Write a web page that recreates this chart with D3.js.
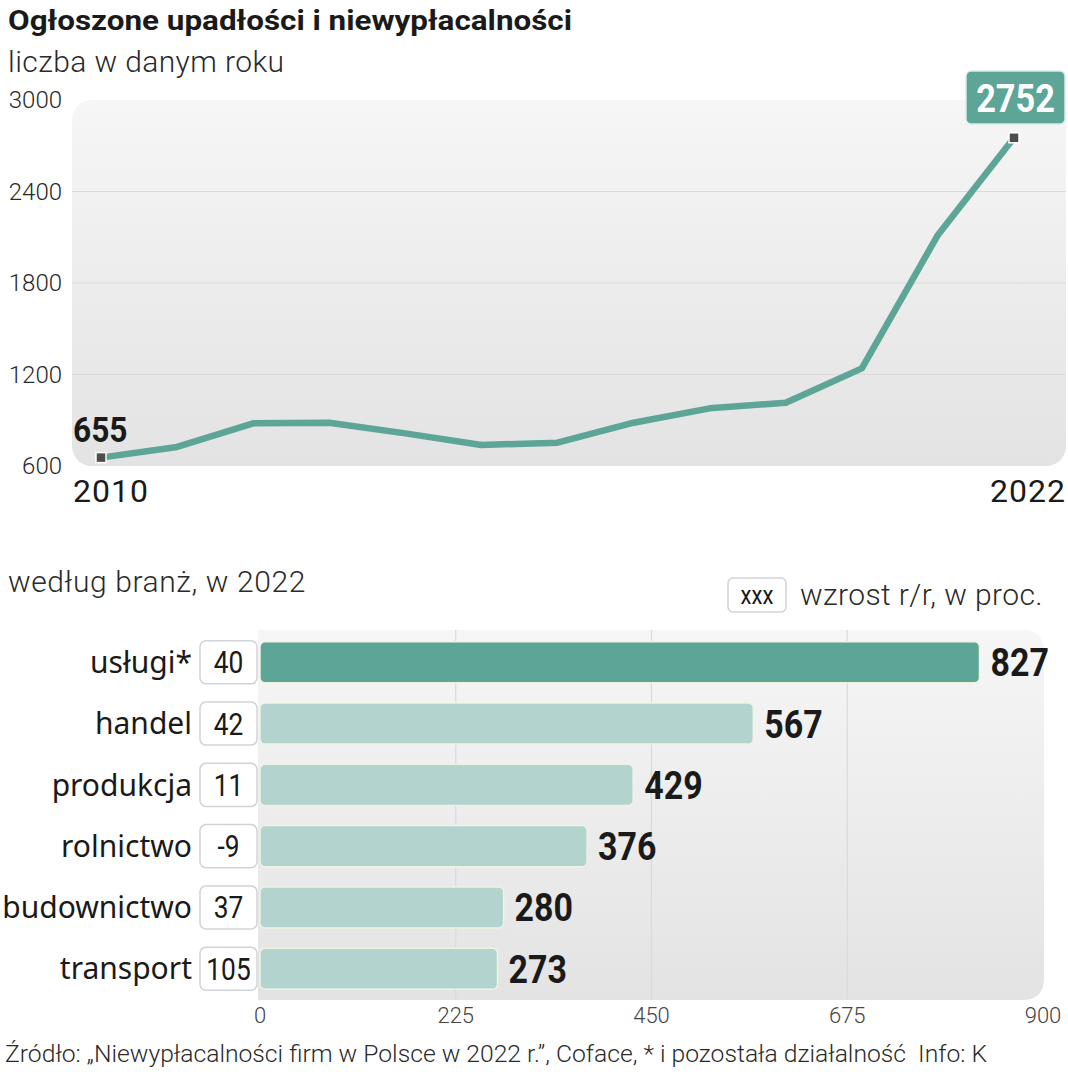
<!DOCTYPE html>
<html>
<head>
<meta charset="utf-8">
<title>Ogłoszone upadłości i niewypłacalności</title>
<script src="https://cdnjs.cloudflare.com/ajax/libs/d3/7.8.5/d3.min.js"></script>
<style>
    body { margin: 0; background: #fff; }
    svg { display: block; }
    .light { font-family: Roboto, sans-serif; font-weight: 300; fill: #2a2a2a; }
    .cond { font-family: Roboto, sans-serif; fill: #1a1a1a; }
</style>
</head>
<body>
<svg id="chart" width="1068" height="1080"></svg>
<script>
// line chart data
var years = [2010, 2011, 2012, 2013, 2014, 2015, 2016, 2017, 2018, 2019, 2020, 2021, 2022];
var counts = [655, 725, 880, 884, 814, 738, 753, 884, 978, 1015, 1240, 2115, 2752];
var yTicks = [600, 1200, 1800, 2400, 3000];

// bar chart data
var sectors = ["usługi*", "handel", "produkcja", "rolnictwo", "budownictwo", "transport"];
var sectorCounts = [827, 567, 429, 376, 280, 273];
var growth = [40, 42, 11, -9, 37, 105];
var xTicks = [0, 225, 450, 675, 900];

var svg = d3.select("#chart");
var defs = svg.append("defs");

var grad = defs.append("linearGradient").attr("id", "panelGrad")
    .attr("x1", 0).attr("y1", 0).attr("x2", 0).attr("y2", 1);
grad.append("stop").attr("offset", "0%").attr("stop-color", "#f6f6f6");
grad.append("stop").attr("offset", "100%").attr("stop-color", "#e3e3e3");

var teal = "#5ca597";
var lightTeal = "#b3d4ce";

// no condensed font installed, so squeeze Roboto horizontally
function squeeze(x, y, k) {
    return "translate(" + x + "," + y + ") scale(" + k + ",1)";
}

// titles
svg.append("text").attr("x", 8).attr("y", 30)
    .attr("class", "cond").attr("font-weight", "bold")
    .attr("font-size", 28).attr("textLength", 564).attr("lengthAdjust", "spacingAndGlyphs")
    .text("Ogłoszone upadłości i niewypłacalności");
svg.append("text").attr("x", 8).attr("y", 72).attr("class", "light")
    .attr("font-size", 30).attr("letter-spacing", 0.4).text("liczba w danym roku");

// ---- line chart ----
var x = d3.scaleLinear().domain([2010, 2022]).range([101, 1014]);
var y = d3.scaleLinear().domain([600, 3000]).range([466, 100]);

svg.append("rect").attr("x", 72).attr("y", 100).attr("width", 994).attr("height", 366)
    .attr("rx", 20).attr("fill", "url(#panelGrad)");

svg.append("g").selectAll("line")
    .data(yTicks.slice(1, 4))
    .enter().append("line")
    .attr("x1", 72).attr("x2", 1066)
    .attr("y1", d => y(d)).attr("y2", d => y(d))
    .attr("stroke", "#d9d9de").attr("stroke-width", 1.2);

svg.append("g").selectAll("text")
    .data(yTicks)
    .enter().append("text")
    .attr("class", "light")
    .attr("x", 62).attr("y", d => y(d))
    .attr("dy", "0.35em").attr("text-anchor", "end")
    .attr("font-size", 24)
    .text(d => d);

var line = d3.line().x((d, i) => x(years[i])).y(d => y(d));
svg.append("path").attr("d", line(counts))
    .attr("fill", "none").attr("stroke", teal)
    .attr("stroke-width", 6.5).attr("stroke-linejoin", "round");

[0, counts.length - 1].forEach(function(i) {
    svg.append("rect")
        .attr("x", x(years[i]) - 5).attr("y", y(counts[i]) - 5)
        .attr("width", 10).attr("height", 10)
        .attr("fill", "#4d4d4d").attr("stroke", "#fff").attr("stroke-width", 1.5);
});

svg.append("text").attr("transform", squeeze(73, 442, 0.88))
    .attr("class", "cond").attr("font-weight", "bold")
    .attr("font-size", 36)
    .text(counts[0]);

svg.append("rect").attr("x", 966).attr("y", 71).attr("width", 99).attr("height", 53)
    .attr("rx", 5).attr("fill", teal).attr("stroke", "#d8ebe6").attr("stroke-width", 1.5);
svg.append("text").attr("transform", squeeze(1015.5, 112, 0.88))
    .attr("class", "cond").attr("font-weight", "bold").attr("text-anchor", "middle")
    .attr("font-size", 39).attr("fill", "#fff").style("fill", "#fff")
    .text(counts[counts.length - 1]);

svg.append("text").attr("x", 73).attr("y", 502)
    .attr("font-family", "Roboto, sans-serif").attr("font-size", 32).attr("fill", "#1a1a1a")
    .attr("letter-spacing", 1)
    .text(years[0]);
svg.append("text").attr("x", 1066).attr("y", 502).attr("text-anchor", "end")
    .attr("font-family", "Roboto, sans-serif").attr("font-size", 32).attr("fill", "#1a1a1a")
    .attr("letter-spacing", 1)
    .text(years[years.length - 1]);

// ---- bar chart ----
svg.append("text").attr("x", 8).attr("y", 592).attr("class", "light")
    .attr("font-size", 30).attr("letter-spacing", 0.6).text("według branż, w 2022");

svg.append("rect").attr("x", 728).attr("y", 578).attr("width", 58).attr("height", 34)
    .attr("rx", 5).attr("fill", "#fff").attr("stroke", "#cfd3da").attr("stroke-width", 1.5);
svg.append("text").attr("transform", squeeze(757, 604, 0.85)).attr("text-anchor", "middle")
    .attr("class", "cond").attr("font-size", 26).text("xxx");
svg.append("text").attr("x", 800).attr("y", 605).attr("class", "light")
    .attr("font-size", 30).attr("letter-spacing", 0.4).text("wzrost r/r, w proc.");

var bx = d3.scaleLinear().domain([0, 900]).range([260, 1043]);
var by = d3.scaleBand().domain(sectors).range([632, 999]).paddingInner(0.33).paddingOuter(0.16);

svg.append("path")
    .attr("d", "M258,630 H1022 Q1044,630 1044,652 V978 Q1044,1000 1022,1000 H258 Z")
    .attr("fill", "url(#panelGrad)");

svg.append("g").selectAll("line")
    .data(xTicks.slice(1, 4))
    .enter().append("line")
    .attr("x1", d => bx(d)).attr("x2", d => bx(d))
    .attr("y1", 630).attr("y2", 1000)
    .attr("stroke", "#d9d9de").attr("stroke-width", 1.2);

svg.append("g").selectAll("rect")
    .data(sectorCounts)
    .enter().append("rect")
    .attr("x", bx(0)).attr("y", (d, i) => by(sectors[i]))
    .attr("width", d => bx(d) - bx(0)).attr("height", by.bandwidth())
    .attr("rx", 5)
    .attr("fill", (d, i) => i === 0 ? teal : lightTeal)
    .attr("stroke", "#eef3e2").attr("stroke-width", 1.5);

svg.append("g").selectAll("text")
    .data(sectorCounts)
    .enter().append("text")
    .attr("class", "cond").attr("font-weight", "bold")
    .attr("transform", (d, i) => squeeze(bx(d) + 11, by(sectors[i]) + by.bandwidth() / 2 + 14, 0.87))
    .attr("font-size", 39)
    .text(d => d);

svg.append("g").selectAll("rect")
    .data(growth)
    .enter().append("rect")
    .attr("x", 200).attr("y", (d, i) => by(sectors[i]) - 1)
    .attr("width", 57).attr("height", by.bandwidth() + 2)
    .attr("rx", 6).attr("fill", "#fff")
    .attr("stroke", "#cfd3da").attr("stroke-width", 1.5);

svg.append("g").selectAll("text")
    .data(growth)
    .enter().append("text")
    .attr("class", "cond")
    .attr("transform", (d, i) => squeeze(228.5, by(sectors[i]) + by.bandwidth() / 2 + 11, 0.85))
    .attr("text-anchor", "middle")
    .attr("font-size", 31)
    .text(d => d);

svg.append("g").selectAll("text")
    .data(sectors)
    .enter().append("text")
    .attr("x", 192)
    .attr("y", d => by(d) + by.bandwidth() / 2)
    .attr("dy", "0.36em").attr("text-anchor", "end")
    .attr("font-family", "'Noto Sans', sans-serif")
    .attr("font-size", 30).attr("fill", "#1a1a1a")
    .text(d => d);

svg.append("g").selectAll("text")
    .data(xTicks)
    .enter().append("text")
    .attr("class", "light")
    .attr("x", d => bx(d)).attr("y", 1023)
    .attr("text-anchor", "middle").attr("font-size", 22)
    .style("fill", "#444")
    .text(d => d);

// footer
svg.append("text").attr("x", 5).attr("y", 1062)
    .attr("class", "light").attr("font-size", 24)
    .attr("textLength", 982).attr("lengthAdjust", "spacingAndGlyphs")
    .attr("xml:space", "preserve")
    .text("Źródło: „Niewypłacalności firm w Polsce w 2022 r.”, Coface, * i pozostała działalność  Info: K");
</script>
</body>
</html>
